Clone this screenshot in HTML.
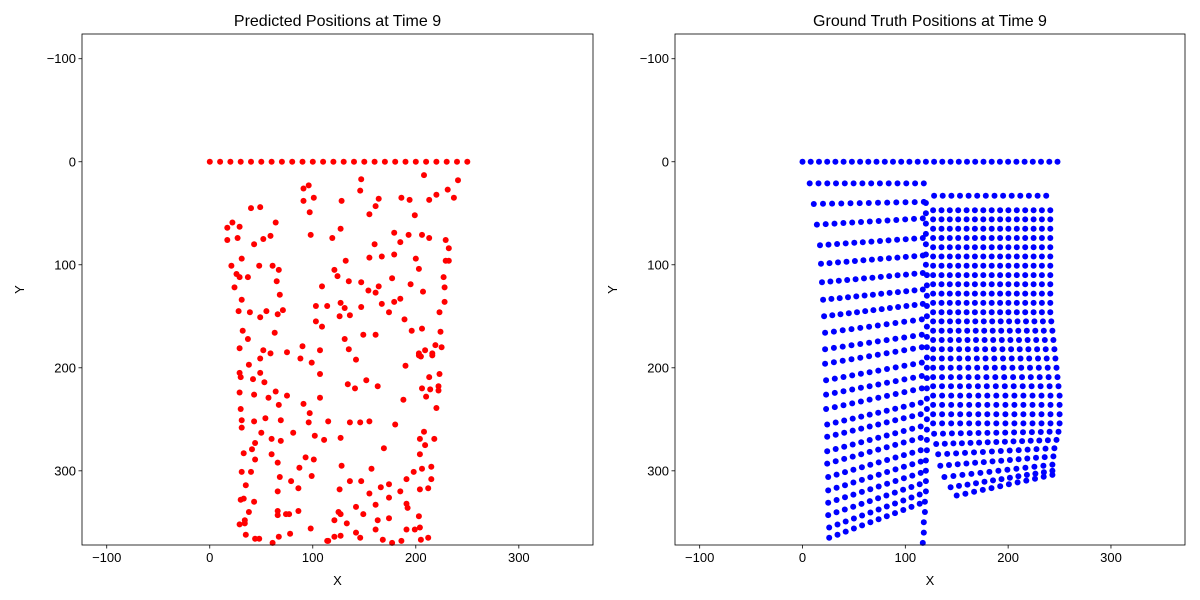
<!DOCTYPE html>
<html><head><meta charset="utf-8"><style>
body{margin:0;background:#fff;}
svg{display:block;font-family:"Liberation Sans","DejaVu Sans",sans-serif;}
</style></head><body>
<svg id="chart" width="1200" height="600" viewBox="0 0 1200 600"></svg>
<script>
const ticks = [-100, 0, 100, 200, 300];
const tickLabels = ["\u2212100", "0", "100", "200", "300"];
const domainMin = -124, domainMax = 372;
const titles = ["Predicted Positions at Time 9", "Ground Truth Positions at Time 9"];

// Predicted: top row
const predTopX = [0,10,20,30,40,50,60,70,80,90,100,110,120,130,140,150,160,170,180,190,200,210,220,230,240,250];
// Predicted scattered points
const predX = [91,96,101,91,97,40,49,22,17,29,64,17,27,43,52,59,98,31,21,48,61,67,26,29,37,65,24,109,68,31,28,39,55,49,66,71,103,114,103,109,32,37,63,29,52,59,75,90,107,
147,208,241,146,128,164,161,155,186,194,199,213,220,231,237,127,119,160,179,185,193,206,213,229,232,132,155,167,179,200,229,232,203,121,124,135,147,164,154,161,177,195,207,227,228,228,127,131,126,136,147,167,179,185,174,189,223,131,149,161,196,206,224,135,209,219,225,203,216,
49,88,38,99,29,30,49,42,53,107,29,43,64,75,57,107,67,91,30,97,31,43,54,69,96,31,50,81,60,69,102,111,44,41,33,60,44,66,93,101,87,31,40,68,79,99,86,35,66,30,33,43,38,66,66,74,77,86,34,29,34,98,35,44,48,67,78,61,114,
142,203,205,216,190,134,141,152,163,213,223,206,214,222,222,210,188,220,115,136,146,155,180,127,169,208,204,218,209,204,128,157,198,206,215,191,215,136,147,126,155,166,174,174,185,204,212,161,142,191,192,125,127,149,121,133,163,174,203,161,142,191,199,204,121,127,146,168,177,186,205,212,115];
const predY = [26,23,35,38,49,45,44,59,64,63,59,76,74,80,75,72,71,94,101,101,101,105,109,112,112,116,122,121,129,134,145,146,145,151,148,144,140,140,155,160,164,172,166,181,183,186,185,179,183,
17,13,18,28,38,36,43,51,35,37,52,37,32,27,35,65,74,80,69,78,71,71,74,76,84,96,93,92,90,94,96,96,104,105,111,116,117,121,125,127,113,119,126,112,122,136,137,142,150,149,141,138,136,133,146,153,146,172,168,168,164,162,165,182,183,178,180,186,186,
191,191,197,195,205,209,205,211,214,206,224,226,223,227,229,229,236,235,240,244,251,252,249,251,253,258,263,263,269,271,266,270,273,279,283,284,289,292,287,289,297,301,301,306,310,305,317,314,320,328,327,330,340,339,343,342,342,339,348,352,351,356,362,366,366,364,361,370,368,
192,188,189,188,198,216,220,212,218,209,206,220,221,218,222,228,231,239,252,253,253,252,255,268,278,262,269,269,275,284,295,298,301,298,296,308,308,310,310,318,322,316,313,326,320,318,317,333,335,332,336,340,342,342,348,351,348,346,344,357,360,357,357,355,364,363,365,367,370,368,367,365,368];

// Ground truth: top row
const gtTopX = [0,8,16,24,32,40,48,56,64,72,80,88,96,104,112,120,128,136,144,152,160,168,176,184,192,200,208,216,224,232,240,248];
// Ground truth rows (start/end points and counts of dots per visible row)
const gtRowX0 = [7,11,14,17,18,19,20,21,22,22,22,23,23,23,24,24,24,24,25,25,25,25,26,26,
  128,127,127,127,127,127,127,127,127,127,127,127,127,127,127,127,127,127,127,127,127,127,127,127,127,128,130,132,134,138,144,150];
const gtRowY0 = [21,41,61,81,99,117,134,150,166,182,196,212,226,240,255,267,281,293,306,319,331,343,355,365,
  33,47,56,65,74,83,92,101,110,119,128,137,146,155,164,173,182,191,200,209,218,227,236,245,254,264,274,284,295,306,316,324];
const gtRowX1 = [118,118,117,117,117,117,117,117,116,116,116,116,116,116,115,115,115,115,115,115,115,114,114,114,
  237,241,241,241,241,241,241,241,241,241,241,241,241,242,243,244,245,246,247,248,249,250,250,250,250,249,247,245,244,243,243,243];
const gtRowY1 = [21,39,55,74,91,108,124,138,153,168,180,195,208,220,234,245,257,268,280,291,302,313,323,332,
  33,47,56,65,74,83,92,101,110,119,128,137,146,155,164,173,182,191,200,209,218,227,236,245,254,262,270,278,286,294,300,304];
const gtRowN = [14,13,13,13,13,13,13,13,12,12,12,12,12,12,12,12,12,12,12,12,12,12,12,12,
  14,15,15,15,15,15,15,15,15,15,15,15,15,15,15,15,15,15,15,15,15,15,15,15,15,15,15,14,14,13,13,12];
// Curved boundary column between regions
const gtColY = [40,50,60,70,80,90,100,110,120,130,140,150,160,170,180,190,200,210,220,230,240,250,260,270,280,290,300,310,320,330,340,350,360,370];
const gtColX = [120,120,120,120,120,120,120,121,121,121,121,121,121,121,121,121,121,121,121,121,121,121,121,121,121,120,120,120,120,119,119,118,118,117];

const NS = "http://www.w3.org/2000/svg";
const svg = document.getElementById("chart");
function mk(tag, attrs, parent) {
  const e = document.createElementNS(NS, tag);
  for (const k in attrs) e.setAttribute(k, attrs[k]);
  (parent || svg).appendChild(e);
  return e;
}
const panels = [{left:82, top:34, w:511, h:511}, {left:675, top:34, w:510, h:511}];
function sx(p, v){ return p.left + (v - domainMin) / (domainMax - domainMin) * p.w; }
function sy(p, v){ return p.top + (v - domainMin) / (domainMax - domainMin) * p.h; }

panels.forEach((p, i) => {
  const g = mk("g", {});
  
  
  const t = mk("text", {x: p.left + p.w/2, y: 26, "text-anchor": "middle", "font-size": "16", fill: "#000"}, g);
  t.textContent = titles[i];
  
  
  const dots = mk("g", {fill: i === 0 ? "#ff0000" : "#0000ff"}, g);
  
  
  function dot(x, y){
    const c = mk("circle", {cx: sx(p, x).toFixed(1), cy: sy(p, y).toFixed(1), r: 3}, dots);
    
    
  }
  if (i === 0) {
    predTopX.forEach(x => dot(x, 0));
    predX.forEach((x, k) => dot(x, predY[k]));
  } else {
    gtTopX.forEach(x => dot(x, 0));
    gtRowX0.forEach((x0, r) => {
      const n = gtRowN[r];
      for (let k = 0; k < n; k++) {
        const f = n > 1 ? k / (n - 1) : 0;
        dot(x0 + (gtRowX1[r] - x0) * f, gtRowY0[r] + (gtRowY1[r] - gtRowY0[r]) * f);
      }
    });
    gtColY.forEach((y, k) => dot(gtColX[k], y));
  }
  const frame = mk("rect", {x: p.left, y: p.top, width: p.w, height: p.h, fill: "none", stroke: "#000", "stroke-width": 0.8}, g);
  
  
  ticks.forEach((v, k) => {
    const X = sx(p, v), Y = sy(p, v);
    mk("line", {x1: X, x2: X, y1: p.top + p.h, y2: p.top + p.h + 3.5, stroke: "#000", "stroke-width": 0.8}, g);
    const xl = mk("text", {x: X, y: p.top + p.h + 17, "text-anchor": "middle", "font-size": "13", fill: "#000"}, g);
    xl.textContent = tickLabels[k];
    
    
    mk("line", {x1: p.left - 3.5, x2: p.left, y1: Y, y2: Y, stroke: "#000", "stroke-width": 0.8}, g);
    const yl = mk("text", {x: p.left - 6, y: Y + 4.5, "text-anchor": "end", "font-size": "13", fill: "#000"}, g);
    yl.textContent = tickLabels[k];
    
    
  });
  const xt = mk("text", {x: p.left + p.w/2, y: 585, "text-anchor": "middle", "font-size": "13", fill: "#000"}, g);
  xt.textContent = "X";
  
  
  const yx = p.left - 58, yy = p.top + p.h/2;
  const yt = mk("text", {x: yx, y: yy, "text-anchor": "middle", "font-size": "13", fill: "#000", transform: `rotate(-90 ${yx} ${yy})`}, g);
  yt.textContent = "Y";
  
  
});
</script>
</body></html>
